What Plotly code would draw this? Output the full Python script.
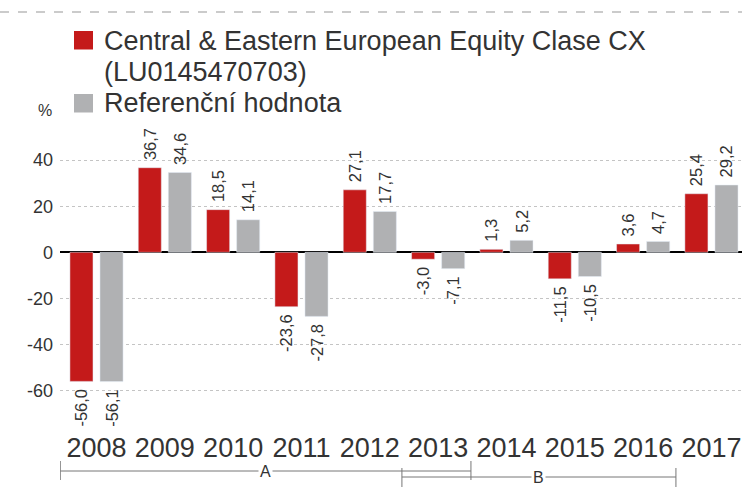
import plotly.graph_objects as go

years = ["2008", "2009", "2010", "2011", "2012", "2013", "2014", "2015", "2016", "2017"]
fund = [-56.0, 36.7, 18.5, -23.6, 27.1, -3.0, 1.3, -11.5, 3.6, 25.4]
bench = [-56.1, 34.6, 14.1, -27.8, 17.7, -7.1, 5.2, -10.5, 4.7, 29.2]
fund_name_lines = ["Central & Eastern European Equity Clase CX", "(LU0145470703)"]
bench_name_lines = ["Referenční hodnota"]
y_ticks = [-60, -40, -20, 0, 20, 40]
y_tick_text = ["-60", "-40", "-20", "0", "20", "40"]

RED = "#C41A1A"
GREY = "#B0B1B3"
TXT = "#333333"
FONT = "Liberation Sans, Arial, Helvetica, sans-serif"
NB = "\u00a0"


def fmt(v):
    s = f"{v:.1f}".replace(".", ",")
    return NB + s if v >= 0 else s + NB


fig = go.Figure()
for vals, name_lines, col in ((fund, fund_name_lines, RED), (bench, bench_name_lines, GREY)):
    fig.add_trace(go.Bar(
        x=years, y=vals, name=" ".join(name_lines), marker_color=col,
        text=[fmt(v) for v in vals], textposition="outside", textangle=-90,
        textfont=dict(size=16.5, color=TXT, family=FONT), cliponaxis=False,
        constraintext="none", showlegend=False,
    ))

L, R, T, B = 60, 0, 130, 82
W, H = 742, 502
ph = H - T - B
pw = W - L - R


def py(px):
    return (H - B - px) / ph


def pxx(px):
    return (px - L) / pw


fig.update_layout(
    width=W, height=H,
    margin=dict(l=L, r=R, t=T, b=B, autoexpand=False),
    paper_bgcolor="white", plot_bgcolor="white",
    barmode="group", bargap=0.12, bargroupgap=0.233,
    font=dict(family=FONT, color=TXT),
    showlegend=False,
    xaxis=dict(
        type="category", range=[-0.534, 9.447], automargin=False,
        showgrid=False, zeroline=False, showline=False, ticks="",
        tickfont=dict(size=27, color=TXT, family=FONT),
        ticklabelstandoff=9,
    ),
    yaxis=dict(
        range=[-72.75, 53.06], tickvals=y_ticks, ticktext=y_tick_text, automargin=False,
        showgrid=True, gridcolor="#C4C4C4", griddash="dot", gridwidth=1,
        zeroline=True, zerolinecolor="#000000", zerolinewidth=1.5,
        showline=False, ticks="",
        tickfont=dict(size=18, color=TXT, family=FONT),
        ticklabelstandoff=6,
    ),
)

# legend (drawn manually to match the original layout)
legend_rows = [
    (RED, fund_name_lines, 31, 41),
    (GREY, bench_name_lines, 94, 103),
]
for col, lines, sq_top, first_y in legend_rows:
    fig.add_shape(type="rect", xref="paper", yref="paper",
                  x0=pxx(74), x1=pxx(93), y0=py(sq_top), y1=py(sq_top + 18.5),
                  fillcolor=col, line=dict(width=0))
    for i, ln in enumerate(lines):
        fig.add_annotation(text=ln, xref="paper", yref="paper", x=pxx(102), y=py(first_y + 31 * i),
                           showarrow=False, font=dict(size=27, color=TXT, family=FONT),
                           xanchor="left", yanchor="middle")

# y-axis unit label
fig.add_annotation(text="%", xref="paper", yref="paper", x=pxx(45), y=py(110),
                   showarrow=False, font=dict(size=16, color=TXT, family=FONT),
                   xanchor="center", yanchor="middle")

# top dashed rule
fig.add_shape(type="line", xref="paper", yref="paper", x0=pxx(0), x1=1,
              y0=py(12), y1=py(12), line=dict(color="#BBBBBB", width=1.5, dash="dash"))

# period brackets A and B
BR = "#777777"
brackets = [
    ("A", -0.53, 5.48, 471, 461, 480),
    ("B", 4.47, 8.48, 477, 468, 487),
]
for lab, xa, xb, yl, yt, yb in brackets:
    fig.add_shape(type="line", xref="x", yref="paper", x0=xa, x1=xb, y0=py(yl), y1=py(yl),
                  line=dict(color=BR, width=1))
    for xx in (xa, xb):
        fig.add_shape(type="line", xref="x", yref="paper", x0=xx, x1=xx, y0=py(yt), y1=py(yb),
                      line=dict(color=BR, width=1))
    fig.add_annotation(text=lab, xref="x", yref="paper", x=(xa + xb) / 2, y=py(yl),
                       showarrow=False, bgcolor="white", borderpad=1,
                       font=dict(size=16, color=TXT, family=FONT),
                       xanchor="center", yanchor="middle")

fig.write_html("out.html", config={"displayModeBar": False},
               post_script="document.body.style.margin='0';document.body.style.overflow='hidden';")
